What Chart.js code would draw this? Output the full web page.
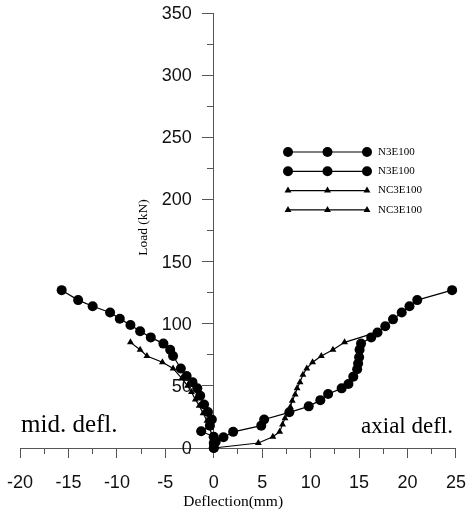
<!DOCTYPE html>
<html>
<head>
<meta charset="utf-8">
<script src="https://cdn.jsdelivr.net/npm/chart.js@4.4.0/dist/chart.umd.min.js"></script>
<style>
body { margin: 0; background: #fff; }
#wrap { width: 470px; height: 517px; }
</style>
</head>
<body>
<div id="wrap"><canvas id="grafico"></canvas></div>
<script>
// N3E100 - deflexão no meio (lado negativo)
const n3MeioX = [0, 0, 0, -1.3, -0.4, -0.2, -0.6, -1.0, -1.4, -1.7, -2.2, -2.8, -3.4, -4.2, -4.5, -5.2, -6.5, -7.6, -8.6, -9.7, -10.7, -12.5, -14.0, -15.7];
const n3MeioY = [0, 4, 9, 13.5, 18, 23, 29, 35, 42, 48, 53, 58, 64, 74, 79, 84, 89, 94, 99, 104, 109, 114, 119, 127];

// N3E100 - deflexão axial
const n3AxialX = [0, 0.2, 1.0, 2.0, 4.9, 5.2, 7.8, 9.8, 11.0, 11.8, 13.2, 13.9, 14.4, 14.8, 14.9, 15.0, 15.05, 15.2, 16.25, 16.9, 17.7, 18.5, 19.4, 20.2, 21.0, 24.6];
const n3AxialY = [0, 5, 8.6, 13, 18, 23, 28.7, 33.5, 38.5, 43.4, 48, 51.5, 57.4, 63.3, 68, 73, 79, 84, 89, 93, 98, 103.5, 109, 114, 119, 127];

// NC3E100 - deflexão no meio
const nc3MeioX = [0, -0.1, -0.2, -0.4, -0.7, -1.1, -1.5, -1.9, -2.3, -2.7, -3.3, -4.2, -5.3, -6.9, -7.6, -8.6];
const nc3MeioY = [0, 4, 10, 16, 22, 28, 34, 39, 45, 50, 56, 64, 69, 74, 79, 85];

// NC3E100 - deflexão axial
const nc3AxialX = [0, 4.6, 6.1, 6.8, 7.1, 7.35, 7.7, 7.9, 8.1, 8.4, 8.6, 8.9, 9.2, 9.6, 10.2, 11.1, 12.3, 13.5, 16.8];
const nc3AxialY = [0, 4, 9, 13, 19, 24, 28.5, 33, 38, 43, 48, 53, 59, 64, 69, 74, 79, 85, 93];

const legendas = ['N3E100', 'N3E100', 'NC3E100', 'NC3E100'];
const xTicks = [-20, -15, -10, -5, 0, 5, 10, 15, 20, 25];
const yTicks = [0, 50, 100, 150, 200, 250, 300, 350];

function pontos(xs, ys) {
    return xs.map((x, i) => ({ x, y: ys[i] }));
}

function serie(label, xs, ys, estilo, raio) {
    return {
        label,
        data: pontos(xs, ys),
        borderColor: '#000',
        backgroundColor: '#000',
        borderWidth: 1.2,
        pointStyle: estilo,
        pointRadius: raio,
        pointBorderWidth: 0,
        pointBackgroundColor: '#000',
        showLine: true,
        tension: 0,
        clip: false
    };
}

const serif = '"Liberation Serif", "Times New Roman", serif';

// textos extras: rótulos do eixo y, títulos, anotações e legenda
const textosPlugin = {
    id: 'textos',
    afterDraw(chart) {
        const ctx = chart.ctx;
        const xs = chart.scales.x;
        const ys = chart.scales.y;
        const area = chart.chartArea;
        const eixoX = xs.getPixelForValue(0);
        ctx.save();
        ctx.fillStyle = '#111';

        // rótulos do eixo y (o Chart.js cola no eixo quando a posição é {x: 0})
        ctx.font = '18px "Liberation Sans", Arial, sans-serif';
        ctx.textAlign = 'right';
        ctx.textBaseline = 'middle';
        ys.ticks.forEach(t => {
            ctx.fillText(String(t.value), eixoX - 22, ys.getPixelForValue(t.value) + 1);
        });

        ctx.fillStyle = '#000';
        // título do eixo y
        ctx.save();
        ctx.translate(eixoX - 70, (area.top + area.bottom) / 2 - 3);
        ctx.rotate(-Math.PI / 2);
        ctx.font = '13.5px ' + serif;
        ctx.textAlign = 'center';
        ctx.textBaseline = 'middle';
        ctx.fillText('Load (kN)', 0, 0);
        ctx.restore();

        // título do eixo x
        ctx.font = '15.5px ' + serif;
        ctx.textAlign = 'center';
        ctx.textBaseline = 'middle';
        ctx.fillText('Deflection(mm)', xs.getPixelForValue(2), area.bottom + 54);

        // anotações
        ctx.textBaseline = 'alphabetic';
        ctx.textAlign = 'left';
        ctx.font = '25px ' + serif;
        ctx.fillText('mid. defl.', area.left + 1, area.bottom - 16);
        ctx.textAlign = 'right';
        ctx.font = '23px ' + serif;
        ctx.fillText('axial defl.', area.right - 3, area.bottom - 15);

        // legenda
        const x0 = 288, x1 = 367, yl = 152, passo = 19.3;
        chart.data.datasets.forEach((ds, i) => {
            const y = yl + i * passo;
            ctx.strokeStyle = '#000';
            ctx.lineWidth = 1.2;
            ctx.beginPath();
            ctx.moveTo(x0, y);
            ctx.lineTo(x1, y);
            ctx.stroke();
            [x0, (x0 + x1) / 2, x1].forEach(px => {
                Chart.helpers.drawPoint(ctx, {
                    pointStyle: ds.pointStyle,
                    radius: ds.pointRadius,
                    rotation: 0,
                    borderWidth: 0
                }, px, y);
            });
            ctx.font = '11px ' + serif;
            ctx.textAlign = 'left';
            ctx.textBaseline = 'middle';
            ctx.fillText(legendas[i], 378, y);
        });
        ctx.restore();
    }
};

const eixoCor = '#555';
const fonteTicks = { family: '"Liberation Sans", Arial, sans-serif', size: 18 };

// eixo auxiliar só com marcas de divisão
function eixoMarcas(eixo, max, min, passo, comprimento) {
    const pos = eixo === 'x' ? { y: 0 } : { x: 0 };
    return {
        type: 'linear',
        axis: eixo,
        position: pos,
        min,
        max,
        ticks: { stepSize: passo, display: false },
        grid: { drawOnChartArea: false, tickLength: comprimento, color: eixoCor },
        border: { display: false }
    };
}

new Chart(document.getElementById('grafico'), {
    type: 'line',
    data: {
        datasets: [
            serie(legendas[0], n3MeioX, n3MeioY, 'circle', 5),
            serie(legendas[1], n3AxialX, n3AxialY, 'circle', 5),
            serie(legendas[2], nc3MeioX, nc3MeioY, 'triangle', 4),
            serie(legendas[3], nc3AxialX, nc3AxialY, 'triangle', 4)
        ]
    },
    options: {
        responsive: true,
        maintainAspectRatio: false,
        animation: false,
        layout: { padding: { left: 20, right: 14, top: 13, bottom: 69 } },
        plugins: {
            legend: { display: false },
            tooltip: { enabled: false }
        },
        scales: {
            x: {
                type: 'linear',
                position: { y: 0 },
                min: -20,
                max: 25,
                afterBuildTicks: (s) => { s.ticks = xTicks.map(v => ({ value: v })); },
                ticks: { color: '#111', font: fonteTicks, padding: 4, maxRotation: 0 },
                grid: { drawOnChartArea: false, tickLength: 20, color: 'rgba(0,0,0,0)' },
                border: { color: eixoCor, width: 1 }
            },
            xMaior: eixoMarcas('x', 25, -20, 5, 10),
            xMenor: eixoMarcas('x', 25, -20, 2.5, 6),
            y: {
                type: 'linear',
                position: { x: 0 },
                min: 0,
                max: 350,
                afterBuildTicks: (s) => { s.ticks = yTicks.map(v => ({ value: v })); },
                ticks: { display: false },
                grid: { drawOnChartArea: false, tickLength: 11, color: eixoCor },
                border: { color: eixoCor, width: 1 }
            },
            yMenor: eixoMarcas('y', 350, 0, 25, 7)
        }
    },
    plugins: [textosPlugin]
});
</script>
</body>
</html>
